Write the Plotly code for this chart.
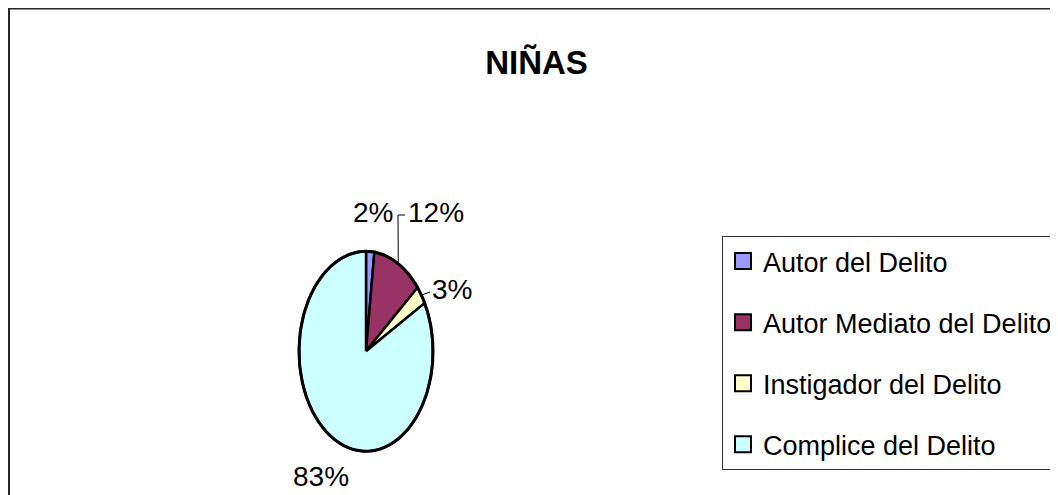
import numpy as np
import plotly.graph_objects as go

# ---- data ----
categories = ["Autor del Delito", "Autor Mediato del Delito", "Instigador del Delito", "Complice del Delito"]
values = [2, 12, 3, 83]
chart_title = "NIÑAS"

# ---- styles / layout ----
colors = ["#9999FF", "#993366", "#FFFFCC", "#CCFFFF"]
FONT = "Liberation Sans Narrow, Arial Narrow, Liberation Sans, Arial, sans-serif"
W, H = 1050, 487             # page body has an 8px margin
CX, CY = 358.0, 343.3        # pie centre, px from figure top-left
RX, RY = 67.0, 100.0         # pie radii, px (Excel squashed pie)
# label positions in pie-radius units (x right, y up)
label_pos = [(0.104, 1.393), (1.045, 1.393), (1.284, 0.623), (-0.672, -1.247)]
# leader-line bends (after starting on the rim at the mid angle)
leader_pts = {1: [(0.478, 1.363), (0.582, 1.363)], 2: [(0.955, 0.593)]}

fig = go.Figure()

total = float(sum(values))
cum = np.concatenate([[0.0], np.cumsum(values)]) / total
for i, (cat, col) in enumerate(zip(categories, colors)):
    a0, a1 = cum[i] * 2 * np.pi, cum[i + 1] * 2 * np.pi
    n = max(3, int((a1 - a0) / (2 * np.pi) * 360))
    ang = np.linspace(a0, a1, n)
    xs = np.concatenate([[0.0], np.sin(ang), [0.0]])
    ys = np.concatenate([[0.0], np.cos(ang), [0.0]])
    fig.add_trace(go.Scatter(x=xs, y=ys, mode="lines", fill="toself", fillcolor=col,
                             line=dict(color="black", width=2.5), showlegend=False,
                             hoverinfo="text", text=f"{cat}: {values[i]}"))

# full outline on top
ang = np.linspace(0, 2 * np.pi, 361)
fig.add_trace(go.Scatter(x=np.sin(ang), y=np.cos(ang), mode="lines",
                         line=dict(color="black", width=3), showlegend=False, hoverinfo="skip"))

# leader lines
for i, pts in leader_pts.items():
    mid = (cum[i] + cum[i + 1]) * np.pi
    xs = [np.sin(mid)] + [p[0] for p in pts]
    ys = [np.cos(mid)] + [p[1] for p in pts]
    fig.add_trace(go.Scatter(x=xs, y=ys, mode="lines", line=dict(color="black", width=1),
                             showlegend=False, hoverinfo="skip"))

# legend entries
for i, (cat, col) in enumerate(zip(categories, colors)):
    fig.add_trace(go.Scatter(x=[None], y=[None], mode="markers", name=cat, legendgroup=cat,
                             marker=dict(symbol="square", size=16, color=col,
                                         line=dict(color="black", width=2))))

# percentage labels
for i, v in enumerate(values):
    fig.add_annotation(x=label_pos[i][0], y=label_pos[i][1], xref="x", yref="y",
                       text=f"{round(v / total * 100)}%", showarrow=False,
                       xanchor="center", yanchor="middle",
                       font=dict(family=FONT, size=28, color="black"))

# chart border
fig.add_shape(type="rect", xref="paper", yref="paper",
              x0=1 / W, x1=(W - 1) / W, y0=-0.1, y1=(H - 0.5) / H,
              line=dict(color="#262626", width=2), fillcolor="rgba(0,0,0,0)")

fig.update_layout(
    width=W, height=H,
    margin=dict(l=0, r=0, t=0, b=0, autoexpand=False),
    paper_bgcolor="white", plot_bgcolor="white",
    title=dict(text=f"<b>{chart_title}</b>", x=528.5 / W, y=(H - 54) / H,
               xanchor="center", yanchor="middle",
               font=dict(family=FONT, size=33, color="black")),
    xaxis=dict(range=[-CX / RX, (W - CX) / RX], domain=[0, 1], visible=False, fixedrange=True),
    yaxis=dict(range=[-(H - CY) / RY, CY / RY], domain=[0, 1], visible=False, fixedrange=True),
    legend=dict(x=714 / W, xanchor="left", y=(H - 228) / H, yanchor="top",
                font=dict(family=FONT, size=27, color="black"),
                bordercolor="#333333", borderwidth=1, bgcolor="white",
                tracegroupgap=23),
    font=dict(family=FONT),
)

fig.write_html("out.html")
